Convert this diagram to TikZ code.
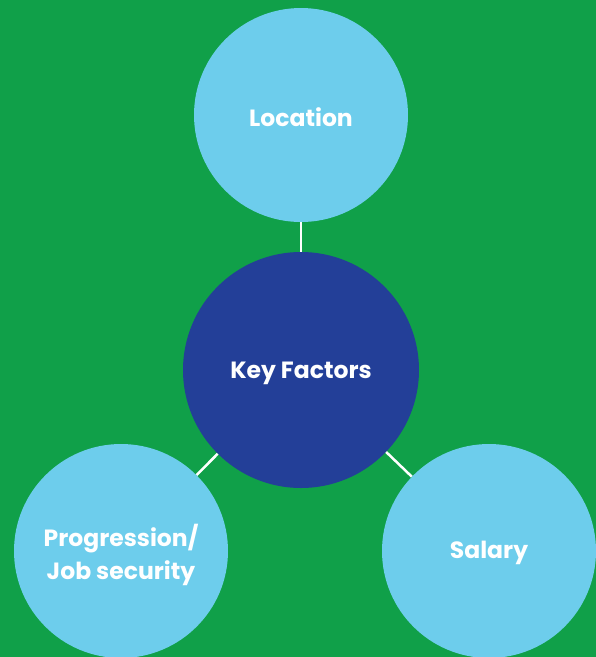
\documentclass[tikz,border=0pt]{standalone}
\usepackage{fontspec}
\setmainfont{Poppins}
\definecolor{bggreen}{HTML}{10A049}
\definecolor{lightblue}{HTML}{6DCDEC}
\definecolor{darkblue}{HTML}{233F98}
\begin{document}
\begin{tikzpicture}[x=1pt,y=-1pt,
  labelfont/.style={text=white, font=\bfseries\fontsize{23.5}{33}\selectfont, align=center},
  factor/.style={circle, fill=lightblue, minimum size=214pt, inner sep=0pt},
  hub/.style={circle, fill=darkblue, minimum size=236pt, inner sep=0pt},
  link/.style={draw=white, line width=2.5pt}]
  \fill[bggreen] (0,0) rectangle (596,657);
  \useasboundingbox (0,0) rectangle (596,657);
  % circles
  \node[hub] (hub) at (301,370) {};
  \node[factor] (loc) at (301,115) {};
  \node[factor] (prog) at (121,551) {};
  \node[factor] (sal) at (489,551) {};
  % labels, nudged so the cap height sits on the circle centre
  \node[labelfont] (hubtext) at ([yshift=-3pt]hub.center) {Key Factors};
  \node[labelfont] (loctext) at ([yshift=-2pt]loc.center) {Location};
  \node[labelfont] (progtext) at ([yshift=-4pt]prog.center) {Progression/\\Job security};
  \node[labelfont] (saltext) at ([yshift=-2pt]sal.center) {Salary};
  % connectors
  \draw[link] (hub) -- (loc);
  \draw[link] (hub) -- (prog);
  \draw[link] (hub) -- (sal);
\end{tikzpicture}
\end{document}
